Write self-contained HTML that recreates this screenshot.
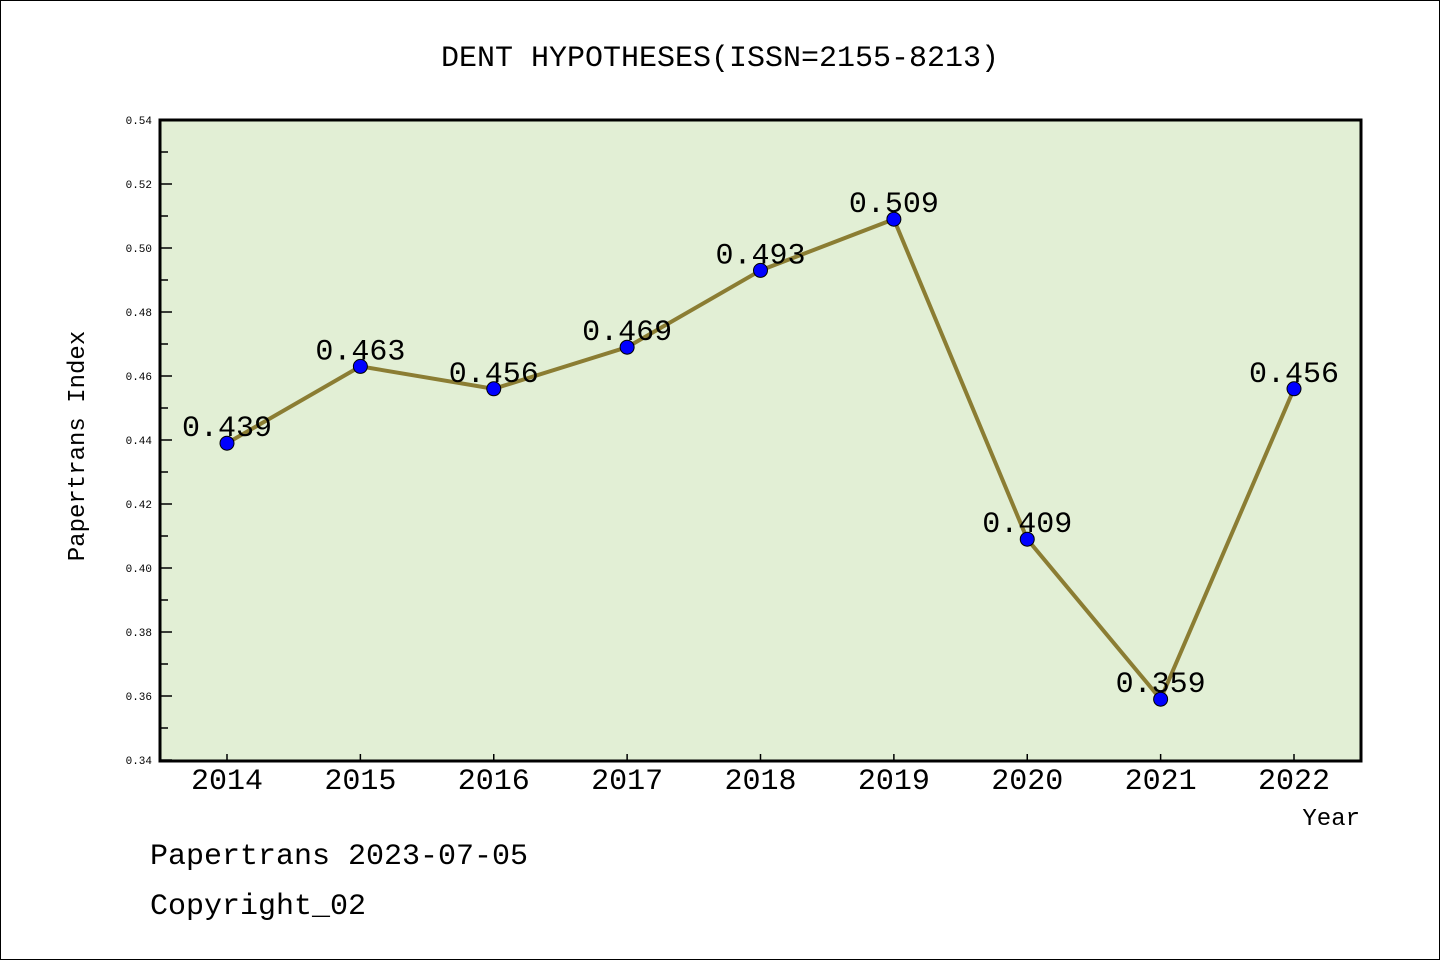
<!DOCTYPE html>
<html><head><meta charset="utf-8"><style>
html,body{margin:0;padding:0;background:#fff}
svg{display:block}
text{font-family:"Liberation Mono","Noto Sans CJK SC",monospace}
</style></head><body>
<svg id="chart" width="1440" height="960" xmlns="http://www.w3.org/2000/svg">
<rect x="0.5" y="0.5" width="1439" height="959" fill="#fff" stroke="#000"/>
<text x="720" y="66" font-size="30" text-anchor="middle">DENT HYPOTHESES(ISSN=2155-8213)</text>
<rect x="160" y="120" width="1201" height="641" fill="#e2efd5"/>
<g id="grid"></g>
<g id="series"></g>
<rect x="160" y="120" width="1201" height="641" fill="none" stroke="#000" stroke-width="3"/>
<text transform="translate(84,446) rotate(-90)" font-size="24" text-anchor="middle">Papertrans Index</text>
<text x="1360" y="825" font-size="24" text-anchor="end">Year</text>
<text x="150" y="864" font-size="30">Papertrans 2023-07-05</text>
<text x="150" y="914" font-size="30">Copyright_02</text>
</svg>
<script>
const years=[2014,2015,2016,2017,2018,2019,2020,2021,2022];
const values=[0.439,0.463,0.456,0.469,0.493,0.509,0.409,0.359,0.456];
const labels=["0.439","0.463","0.456","0.469","0.493","0.509","0.409","0.359","0.456"];
const yTicks=["0.34","0.36","0.38","0.40","0.42","0.44","0.46","0.48","0.50","0.52","0.54"];
const NS="http://www.w3.org/2000/svg";
const yMin=0.34,yMax=0.54,plotTop=120,plotBot=760,plotLeft=160;
const sy=v=>plotBot-(v-yMin)/(yMax-yMin)*(plotBot-plotTop);
const sx=i=>227+i*(1294-227)/(years.length-1);
function mk(t,a,p){const e=document.createElementNS(NS,t);for(const k in a)e.setAttribute(k,a[k]);p.appendChild(e);return e;}
const gGrid=document.getElementById('grid'),gSeries=document.getElementById('series');
yTicks.forEach((t,i)=>{
  const v=parseFloat(t),yy=sy(v);
  const l=mk('line',{x1:plotLeft,x2:plotLeft+12,y1:yy,y2:yy,stroke:'#000','stroke-width':1.5},gGrid);
  
  
  const tx=mk('text',{x:152,y:yy+4,'font-size':11,'text-anchor':'end','font-family':'Liberation Sans,sans-serif'},gGrid);
  
  
  tx.textContent=t;
  if(i<yTicks.length-1){
    const ym=sy(v+0.01);
    const m=mk('line',{x1:plotLeft,x2:plotLeft+8,y1:ym,y2:ym,stroke:'#000','stroke-width':1.5},gGrid);
    
    
  }
});
years.forEach((yr,i)=>{
  const l=mk('line',{x1:sx(i),x2:sx(i),y1:plotBot-6,y2:plotBot,stroke:'#000','stroke-width':1.5},gGrid);
  
  
  const t=mk('text',{x:sx(i),y:789,'font-size':30,'text-anchor':'middle','font-family':'Liberation Sans,sans-serif'},gGrid);
  
  
  t.textContent=yr;
});
const pl=mk('polyline',{points:values.map((v,i)=>sx(i)+','+sy(v)).join(' '),fill:'none',stroke:'#8b7d33','stroke-width':4},gSeries);


values.forEach((v,i)=>{
  const c=mk('circle',{cx:sx(i),cy:sy(v),r:7,fill:'#0000ff',stroke:'#000','stroke-width':1},gSeries);
  
  
});
values.forEach((v,i)=>{
  const t=mk('text',{x:sx(i),y:sy(v)-7,'font-size':30,'text-anchor':'middle'},gSeries);
  
  
  t.textContent=labels[i];
});
</script>
</body></html>
